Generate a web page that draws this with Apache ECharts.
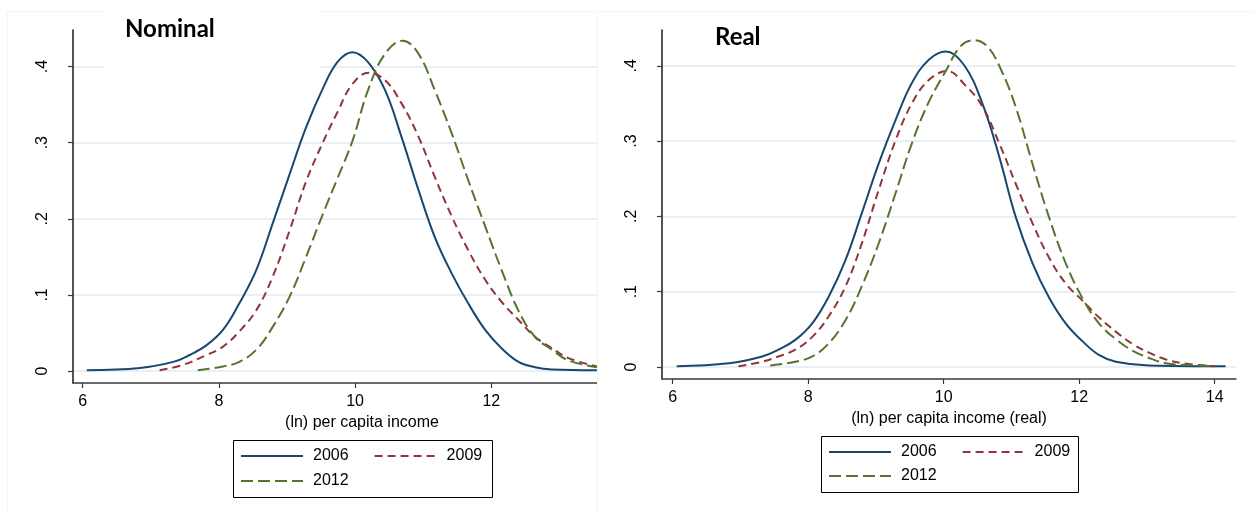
<!DOCTYPE html>
<html><head><meta charset="utf-8">
<script src="https://cdn.jsdelivr.net/npm/echarts@6/dist/echarts.min.js"></script>
<style>html,body{margin:0;padding:0;background:#fff}#c{width:1253px;height:513px}</style>
</head><body><div id="c"></div>
<script>
// ---------- data ----------
const years = ['2006', '2009', '2012'];
const panelTitles = ['Nominal', 'Real'];
const axisTitles = ['(ln) per capita income', '(ln) per capita income (real)'];
const xTicksNominal = [6, 8, 10, 12];
const xTicksReal = [6, 8, 10, 12, 14];
const yTicks = [0, 0.1, 0.2, 0.3, 0.4];
const yTickLabels = ['0', '.1', '.2', '.3', '.4'];

const nominal2006 = [[6.06,0.001],[6.84,0.004],[7.33,0.012],[7.57,0.021],[7.82,0.034],[8.06,0.054],[8.30,0.089],[8.55,0.133],[8.79,0.194],[9.04,0.259],[9.28,0.320],[9.53,0.372],[9.74,0.406],[9.96,0.419],[10.19,0.406],[10.44,0.369],[10.68,0.308],[10.93,0.238],[11.17,0.176],[11.42,0.128],[11.66,0.089],[11.91,0.054],[12.15,0.030],[12.40,0.012],[12.64,0.005],[12.89,0.002],[13.55,0.001]];
const nominal2009 = [[7.13,0.001],[7.47,0.008],[7.82,0.021],[8.06,0.032],[8.30,0.052],[8.55,0.080],[8.79,0.124],[9.04,0.185],[9.28,0.249],[9.53,0.301],[9.74,0.340],[9.96,0.377],[10.20,0.392],[10.44,0.382],[10.68,0.352],[10.93,0.308],[11.17,0.255],[11.42,0.203],[11.66,0.159],[11.91,0.120],[12.15,0.091],[12.40,0.067],[12.64,0.045],[12.89,0.030],[13.13,0.017],[13.55,0.006]];
const nominal2012 = [[7.69,0.001],[8.06,0.006],[8.30,0.012],[8.55,0.028],[8.79,0.058],[9.04,0.098],[9.28,0.150],[9.53,0.207],[9.74,0.253],[9.96,0.302],[10.19,0.369],[10.44,0.417],[10.70,0.434],[10.93,0.417],[11.17,0.369],[11.42,0.312],[11.66,0.251],[11.91,0.190],[12.15,0.133],[12.40,0.079],[12.64,0.045],[12.89,0.028],[13.13,0.014],[13.55,0.005]];

const real2006 = [[6.06,0.001],[6.83,0.005],[7.32,0.014],[7.56,0.023],[7.81,0.036],[8.06,0.058],[8.30,0.093],[8.55,0.142],[8.79,0.204],[9.04,0.270],[9.29,0.328],[9.53,0.377],[9.78,0.408],[10.03,0.419],[10.30,0.401],[10.57,0.350],[10.82,0.279],[11.06,0.200],[11.31,0.138],[11.55,0.093],[11.80,0.058],[12.05,0.034],[12.29,0.016],[12.54,0.007],[13.03,0.002],[14.16,0.001]];
const real2009 = [[6.97,0.001],[7.32,0.007],[7.56,0.014],[7.81,0.023],[8.06,0.040],[8.30,0.067],[8.55,0.107],[8.79,0.164],[9.04,0.235],[9.29,0.301],[9.53,0.350],[9.78,0.381],[10.05,0.393],[10.32,0.374],[10.57,0.346],[10.82,0.297],[11.06,0.244],[11.31,0.191],[11.55,0.146],[11.80,0.111],[12.05,0.088],[12.29,0.066],[12.54,0.047],[12.78,0.031],[13.03,0.019],[13.28,0.010],[13.52,0.005],[14.01,0.001]];
const real2012 = [[7.44,0.002],[7.81,0.007],[8.06,0.014],[8.30,0.031],[8.55,0.062],[8.79,0.107],[9.04,0.164],[9.29,0.231],[9.53,0.297],[9.78,0.352],[10.03,0.393],[10.25,0.426],[10.45,0.434],[10.65,0.425],[10.85,0.394],[11.06,0.346],[11.31,0.270],[11.55,0.200],[11.80,0.138],[12.05,0.091],[12.29,0.058],[12.54,0.037],[12.78,0.022],[13.03,0.012],[13.28,0.005],[13.52,0.003],[14.01,0.001]];

// ---------- styles ----------
const colors = ['#1a476f', '#90353b', '#55752f'];
const dashes = ['solid', [8, 5], [12, 5]];
const FONT = '"Liberation Sans", Arial, sans-serif';

const yLabel = v => {
  const i = yTicks.findIndex(t => Math.abs(t - v) < 1e-9);
  return i >= 0 ? yTickLabels[i] : '';
};

function mkSeries(data, k, axis) {
  return {
    type: 'line', name: years[k], data: data,
    xAxisIndex: axis, yAxisIndex: axis,
    showSymbol: false, symbol: 'none', smooth: 0.4,
    lineStyle: { color: colors[k], width: 2, type: dashes[k] },
    itemStyle: { color: colors[k] },
    z: 3, silent: true
  };
}

function mkX(gi, min, max, ticks, padLeft) {
  return {
    type: 'value', gridIndex: gi, min: min, max: max,
    name: axisTitles[gi], nameLocation: 'middle', nameGap: 27,
    nameTextStyle: { fontFamily: FONT, fontSize: 16, color: '#000', padding: [0, 0, 0, padLeft] },
    axisLine: { show: true, onZero: false, lineStyle: { color: '#3a3a3a', width: 1.5 } },
    axisTick: { show: true, length: 5, customValues: ticks, lineStyle: { color: '#3a3a3a', width: 1.2 } },
    axisLabel: { customValues: ticks, fontFamily: FONT, fontSize: 16, color: '#000', margin: 11 },
    splitLine: { show: false }
  };
}
function mkY(gi, min, max) {
  return {
    type: 'value', gridIndex: gi, min: min, max: max,
    axisLine: { show: true, onZero: false, lineStyle: { color: '#1a1a1a', width: 1.5 } },
    axisTick: { show: true, length: 5, customValues: yTicks, lineStyle: { color: '#3a3a3a', width: 1.2 } },
    axisLabel: { customValues: yTicks, formatter: yLabel, rotate: 90, fontFamily: FONT, fontSize: 16, color: '#000', margin: 22 },
    splitLine: { show: true, lineStyle: { color: '#e9eff2', width: 2 } }
  };
}

function mkLegend(names, left, top) {
  return {
    data: names, left: left, top: top, orient: 'horizontal',
    itemWidth: 62, itemHeight: 18, itemGap: 25, padding: 0,
    selectedMode: false,
    itemStyle: { opacity: 0 },
    textStyle: { fontFamily: FONT, fontSize: 16, color: '#000', padding: [0, 0, 0, 5] }
  };
}

const chart = echarts.init(document.getElementById('c'), null, { renderer: 'canvas' });
chart.setOption({
  backgroundColor: '#fff',
  animation: false,
  title: [
    { text: panelTitles[0], left: 125, top: 17, padding: 0, textStyle: { fontFamily: 'Lato, "Open Sans", sans-serif', fontWeight: 'bold', fontSize: 24, color: '#000' } },
    { text: panelTitles[1], left: 715, top: 25, padding: 0, textStyle: { fontFamily: 'Lato, "Open Sans", sans-serif', fontWeight: 'bold', fontSize: 24, color: '#000' } }
  ],
  grid: [
    { left: 73, top: 30, width: 524, height: 353 },
    { left: 662, top: 30, width: 574, height: 349 }
  ],
  xAxis: [
    mkX(0, 5.8576, 13.552, xTicksNominal, 54),
    mkX(1, 5.842, 14.314, xTicksReal, 0)
  ],
  yAxis: [
    mkY(0, -0.01577, 0.4481),
    mkY(1, -0.01594, 0.4475)
  ],
  legend: [
    mkLegend([years[0], years[1]], 240, 448),
    mkLegend([years[2]], 240, 473),
    mkLegend([years[0], years[1]], 828, 444),
    mkLegend([years[2]], 828, 468)
  ],
  graphic: [
    { type: 'polyline', z: 1, silent: true, shape: { points: [[7.5, 513], [7.5, 11.5], [597.5, 11.5], [597.5, 513]] }, style: { fill: null, stroke: '#f2f4f5', lineWidth: 1 } },
    { type: 'line', z: 1, silent: true, shape: { x1: 600, y1: 11.5, x2: 1253, y2: 11.5 }, style: { stroke: '#f2f4f5', lineWidth: 1 } },
    { type: 'rect', z: 5, silent: true, shape: { x: 104, y: 4, width: 216, height: 64 }, style: { fill: '#fff', stroke: null } },
    { type: 'rect', z: 5, silent: true, shape: { x: 233.5, y: 440.5, width: 259, height: 57 }, style: { fill: 'transparent', stroke: '#000', lineWidth: 1 } },
    { type: 'rect', z: 5, silent: true, shape: { x: 821.5, y: 436.5, width: 257, height: 56 }, style: { fill: 'transparent', stroke: '#000', lineWidth: 1 } }
  ],
  series: [
    mkSeries(nominal2006, 0, 0), mkSeries(nominal2009, 1, 0), mkSeries(nominal2012, 2, 0),
    mkSeries(real2006, 0, 1), mkSeries(real2009, 1, 1), mkSeries(real2012, 2, 1)
  ]
});
</script></body></html>
